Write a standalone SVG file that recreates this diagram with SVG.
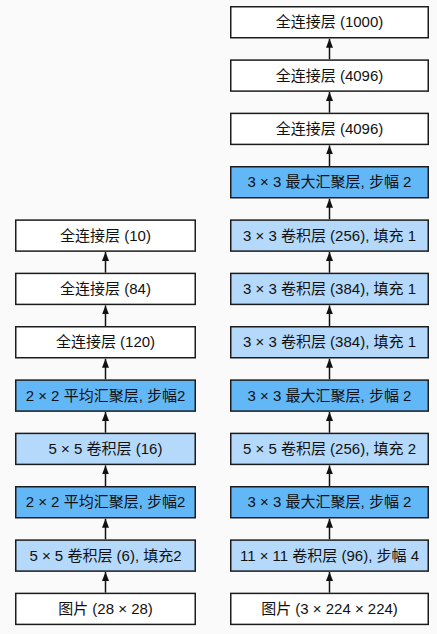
<svg xmlns="http://www.w3.org/2000/svg" width="437" height="634" viewBox="0 0 437 634">
<style>
.box{stroke:#1c1c1c;stroke-width:1.5}
.w{fill:#ffffff}
.d{fill:#62b8f7}
.l{fill:#b4d9fb}
text{font-family:"Liberation Sans","Noto Sans CJK SC",sans-serif;font-size:15px;fill:#111;text-anchor:middle}
.arr{stroke:#111;stroke-width:1.5;fill:none}
</style>
<defs>
<marker id="ah" markerUnits="userSpaceOnUse" markerWidth="9" markerHeight="7" refX="9" refY="3.5" orient="auto" viewBox="0 0 9 7">
<path d="M0,0 L9,3.5 L0,7 Z" fill="#111"/>
</marker>
</defs>
<rect x="0" y="0" width="437" height="634" fill="#fafafa"/>
<g id="connectors">
<line class="arr" x1="105.5" y1="592.7" x2="105.5" y2="572" marker-end="url(#ah)"/>
<line class="arr" x1="105.5" y1="539.3" x2="105.5" y2="518.7" marker-end="url(#ah)"/>
<line class="arr" x1="105.5" y1="486" x2="105.5" y2="465.4" marker-end="url(#ah)"/>
<line class="arr" x1="105.5" y1="432.7" x2="105.5" y2="412" marker-end="url(#ah)"/>
<line class="arr" x1="105.5" y1="379.3" x2="105.5" y2="358.7" marker-end="url(#ah)"/>
<line class="arr" x1="105.5" y1="326" x2="105.5" y2="305.4" marker-end="url(#ah)"/>
<line class="arr" x1="105.5" y1="272.7" x2="105.5" y2="252" marker-end="url(#ah)"/>
<line class="arr" x1="329.5" y1="592.7" x2="329.5" y2="572" marker-end="url(#ah)"/>
<line class="arr" x1="329.5" y1="539.3" x2="329.5" y2="518.7" marker-end="url(#ah)"/>
<line class="arr" x1="329.5" y1="486" x2="329.5" y2="465.4" marker-end="url(#ah)"/>
<line class="arr" x1="329.5" y1="432.7" x2="329.5" y2="412" marker-end="url(#ah)"/>
<line class="arr" x1="329.5" y1="379.3" x2="329.5" y2="358.7" marker-end="url(#ah)"/>
<line class="arr" x1="329.5" y1="326" x2="329.5" y2="305.4" marker-end="url(#ah)"/>
<line class="arr" x1="329.5" y1="272.7" x2="329.5" y2="252" marker-end="url(#ah)"/>
<line class="arr" x1="329.5" y1="219.3" x2="329.5" y2="198.7" marker-end="url(#ah)"/>
<line class="arr" x1="329.5" y1="166" x2="329.5" y2="145.4" marker-end="url(#ah)"/>
<line class="arr" x1="329.5" y1="112.7" x2="329.5" y2="92" marker-end="url(#ah)"/>
<line class="arr" x1="329.5" y1="59.3" x2="329.5" y2="38.7" marker-end="url(#ah)"/>
</g>
<g id="lenet-fc10"><rect class="box w" x="15.75" y="220.1" width="179.5" height="31"/><text x="105.5" y="240.8">全连接层 (10)</text></g>
<g id="lenet-fc84"><rect class="box w" x="15.75" y="273.4" width="179.5" height="31"/><text x="105.5" y="294.1">全连接层 (84)</text></g>
<g id="lenet-fc120"><rect class="box w" x="15.75" y="326.75" width="179.5" height="31"/><text x="105.5" y="347.4">全连接层 (120)</text></g>
<g id="lenet-pool2"><rect class="box d" x="15.75" y="380.1" width="179.5" height="31"/><text x="105.5" y="400.8">2 × 2 平均汇聚层, 步幅2</text></g>
<g id="lenet-conv2"><rect class="box l" x="15.75" y="433.4" width="179.5" height="31"/><text x="105.5" y="454.1">5 × 5 卷积层 (16)</text></g>
<g id="lenet-pool1"><rect class="box d" x="15.75" y="486.75" width="179.5" height="31"/><text x="105.5" y="507.4">2 × 2 平均汇聚层, 步幅2</text></g>
<g id="lenet-conv1"><rect class="box l" x="15.75" y="540.1" width="179.5" height="31"/><text x="105.5" y="560.8">5 × 5 卷积层 (6), 填充2</text></g>
<g id="lenet-input"><rect class="box w" x="15.75" y="593.4" width="179.5" height="31"/><text x="105.5" y="614.1">图片 (28 × 28)</text></g>
<g id="alex-fc1000"><rect class="box w" x="230.75" y="6.75" width="197.5" height="31"/><text x="329.5" y="27.4">全连接层 (1000)</text></g>
<g id="alex-fc4096b"><rect class="box w" x="230.75" y="60.1" width="197.5" height="31"/><text x="329.5" y="80.8">全连接层 (4096)</text></g>
<g id="alex-fc4096a"><rect class="box w" x="230.75" y="113.4" width="197.5" height="31"/><text x="329.5" y="134.1">全连接层 (4096)</text></g>
<g id="alex-pool3"><rect class="box d" x="230.75" y="166.75" width="197.5" height="31"/><text x="329.5" y="187.4">3 × 3 最大汇聚层, 步幅 2</text></g>
<g id="alex-conv5"><rect class="box l" x="230.75" y="220.1" width="197.5" height="31"/><text x="329.5" y="240.8">3 × 3 卷积层 (256), 填充 1</text></g>
<g id="alex-conv4"><rect class="box l" x="230.75" y="273.4" width="197.5" height="31"/><text x="329.5" y="294.1">3 × 3 卷积层 (384), 填充 1</text></g>
<g id="alex-conv3"><rect class="box l" x="230.75" y="326.75" width="197.5" height="31"/><text x="329.5" y="347.4">3 × 3 卷积层 (384), 填充 1</text></g>
<g id="alex-pool2"><rect class="box d" x="230.75" y="380.1" width="197.5" height="31"/><text x="329.5" y="400.8">3 × 3 最大汇聚层, 步幅 2</text></g>
<g id="alex-conv2"><rect class="box l" x="230.75" y="433.4" width="197.5" height="31"/><text x="329.5" y="454.1">5 × 5 卷积层 (256), 填充 2</text></g>
<g id="alex-pool1"><rect class="box d" x="230.75" y="486.75" width="197.5" height="31"/><text x="329.5" y="507.4">3 × 3 最大汇聚层, 步幅 2</text></g>
<g id="alex-conv1"><rect class="box l" x="230.75" y="540.1" width="197.5" height="31"/><text x="329.5" y="560.8">11 × 11 卷积层 (96), 步幅 4</text></g>
<g id="alex-input"><rect class="box w" x="230.75" y="593.4" width="197.5" height="31"/><text x="329.5" y="614.1">图片 (3 × 224 × 224)</text></g>
</svg>
